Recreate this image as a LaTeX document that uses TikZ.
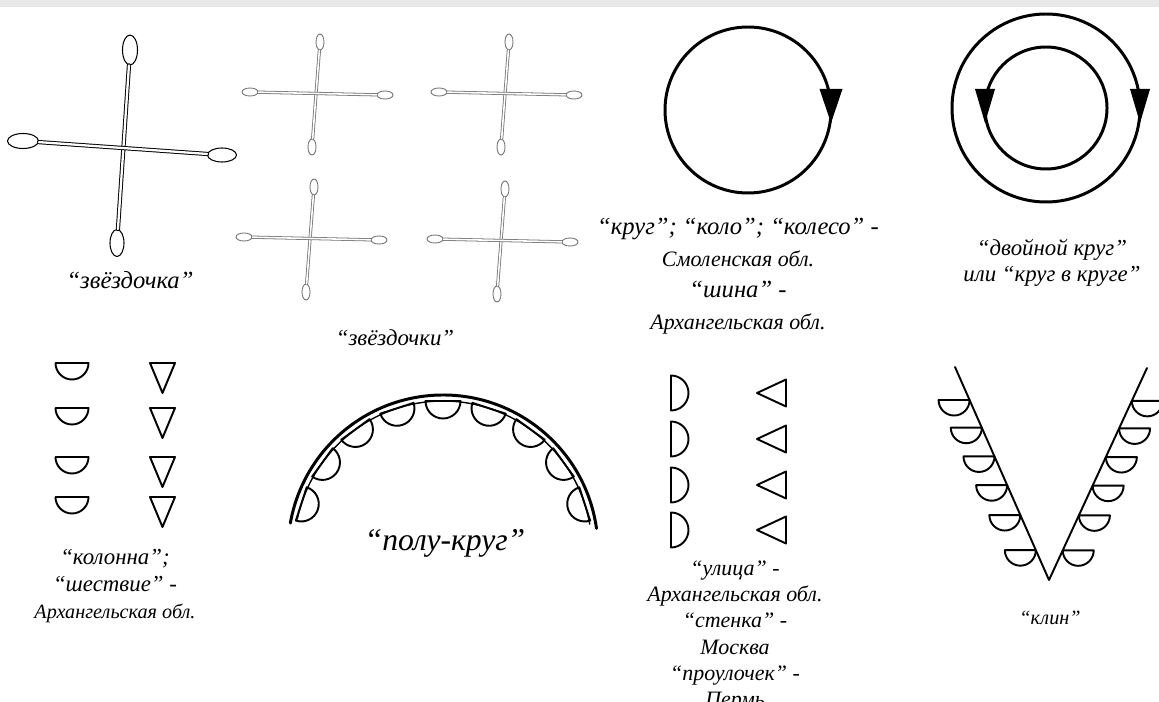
\documentclass[tikz,border=0pt]{standalone}
\usepackage{fontspec}
\setmainfont{Liberation Serif}
\usetikzlibrary{shapes.geometric,calc}

\newcommand{\obl}[1]{{\fontsize{12.5}{14}\selectfont #1}}

\begin{document}
\begin{tikzpicture}[
    line cap=round,
    line join=round,
    contour/.style={line width=1.1pt},
    heavy/.style={line width=1.7pt},
    stemline/.style={double, line width=0.55pt, double distance=1.3pt},
    faintline/.style={double, draw=black!55, line width=0.45pt, double distance=0.9pt},
    eyelet/.style={ellipse, draw, line width=0.6pt, inner sep=0pt},
    faintlet/.style={ellipse, draw=black!55, line width=0.5pt, inner sep=0pt},
    lbl/.style={align=center, font=\itshape\fontsize{14}{18}\selectfont}
]

\fill[white] (0,0) rectangle (23.18,14.02);
\useasboundingbox (0,0) rectangle (23.18,14.02);
\fill[black!9] (0,13.88) rectangle (23.18,14.02);

% -------------------------------------------------
% Звёздочка
% -------------------------------------------------

\node[eyelet, minimum width=0.30cm, minimum height=0.60cm] (bigN) at (2.60,13.02) {};
\node[eyelet, minimum width=0.28cm, minimum height=0.54cm] (bigS) at (2.34,9.16) {};
\node[eyelet, minimum width=0.62cm, minimum height=0.30cm] (bigW) at (0.46,11.20) {};
\node[eyelet, minimum width=0.58cm, minimum height=0.28cm] (bigE) at (4.44,10.92) {};

\draw[stemline] (bigN) -- (bigS);
\draw[stemline] (bigW) -- (bigE);

\node[lbl] (labStar) at (2.60,8.42) {“звёздочка”};

% -------------------------------------------------
% Четыре звёздочки
% -------------------------------------------------

\foreach \i/\cx/\cy in {1/6.36/12.16, 2/10.14/12.16, 3/6.24/9.26, 4/10.06/9.22} {
  \node[faintlet, minimum width=0.16cm, minimum height=0.32cm] (s\i N) at (\cx+0.04,\cy+1.02) {};
  \node[faintlet, minimum width=0.16cm, minimum height=0.32cm] (s\i S) at (\cx-0.12,\cy-1.08) {};
  \node[faintlet, minimum width=0.32cm, minimum height=0.16cm] (s\i W) at (\cx-1.36,\cy+0.02) {};
  \node[faintlet, minimum width=0.32cm, minimum height=0.16cm] (s\i E) at (\cx+1.34,\cy-0.04) {};
  \draw[faintline] (s\i N) -- (s\i S);
  \draw[faintline] (s\i W) -- (s\i E);
}

\node[lbl, font=\itshape\fontsize{13}{16}\selectfont] (labStars) at (7.90,7.26) {“звёздочки”};

% -------------------------------------------------
% Круг
% -------------------------------------------------

\coordinate (K) at (14.96,11.82);
\coordinate (Kr) at (16.62,11.82);
\draw[heavy] (K) circle[radius=1.66];
\fill (Kr) ++(-0.23,0.42) -- ++(0.46,0) -- ++(-0.23,-0.68) -- cycle;

\node[lbl] (labKrug) at (14.76,8.50)
  {“круг”; “коло”; “колесо” -\\ \obl{Смоленская обл.}\\ “шина” -\\ \obl{Архангельская обл.}};

% -------------------------------------------------
% Двойной круг
% -------------------------------------------------

\coordinate (DK) at (20.92,11.86);
\coordinate (DKo) at (22.80,11.86);
\coordinate (DKi) at (19.70,11.86);
\draw[heavy] (DK) circle[radius=1.88];
\draw[heavy] (DK) circle[radius=1.22];
\fill (DKo) ++(-0.20,0.38) -- ++(0.40,0) -- ++(-0.20,-0.68) -- cycle;
\fill (DKi) ++(-0.20,0.38) -- ++(0.40,0) -- ++(-0.20,-0.68) -- cycle;

\node[lbl, font=\itshape\fontsize{13}{14.5}\selectfont] (labDouble) at (21.04,8.76)
  {“двойной круг”\\ или “круг в круге”};

% -------------------------------------------------
% Колонна
% -------------------------------------------------

\foreach \y in {6.76,5.86,4.88,4.08} {
  \draw[contour] (1.11,\y) -- (1.77,\y) arc[start angle=0, end angle=-180, radius=0.33] -- cycle;
  \draw[contour] (3.00,\y) -- (3.50,\y) -- (3.25,\y-0.60) -- cycle;
}

\node[lbl, font=\itshape\fontsize{13}{15.5}\selectfont] (labKolonna) at (2.30,2.30)
  {“колонна”;\\ “шествие” -\\ {\fontsize{11.5}{14}\selectfont Архангельская обл.}};

% -------------------------------------------------
% Полукруг
% -------------------------------------------------

\coordinate (P) at (8.86,3.02);
\draw[heavy] ([shift={(8:3.10)}]P) arc[start angle=8, end angle=170, radius=3.10];
\draw[line width=0.8pt] ([shift={(10:2.98)}]P) arc[start angle=10, end angle=168, radius=2.98];
\foreach \a in {162,144,...,18}
  \draw[contour, shift={(P)}, rotate=\a] (2.98,-0.35) arc[start angle=-90, end angle=-270, radius=0.35] -- cycle;

\node[lbl, font=\itshape\fontsize{18}{20}\selectfont] (labPolu) at (8.90,3.16) {“полу-круг”};

% -------------------------------------------------
% Улица
% -------------------------------------------------

\foreach \y in {6.16,5.24,4.32,3.42} {
  \draw[contour] (13.42,\y-0.35) arc[start angle=-90, end angle=90, radius=0.35] -- cycle;
  \draw[contour] (15.72,\y+0.27) -- (15.72,\y-0.27) -- (15.14,\y) -- cycle;
}

\node[lbl, font=\itshape\fontsize{12.5}{15}\selectfont] (labUlica) at (14.70,1.30)
  {“улица” -\\ Архангельская обл.\\ “стенка” -\\ Москва\\ “проулочек” -\\ Пермь};

% -------------------------------------------------
% Клин
% -------------------------------------------------

\coordinate (WL) at (19.10,6.68);
\coordinate (WV) at (20.98,2.42);
\coordinate (WR) at (22.94,6.66);
\draw[contour] (WL) -- (WV) -- (WR);
\foreach \t in {0.155,0.285,0.42,0.555,0.695,0.86} {
  \draw[contour] ($(WL)!\t!(WV)$) -- ++(-0.62,0) arc[start angle=180, end angle=360, radius=0.31] -- cycle;
  \draw[contour] ($(WR)!\t!(WV)$) -- ++(0.62,0) arc[start angle=0, end angle=-180, radius=0.31] -- cycle;
}

\node[lbl, font=\itshape\fontsize{11.5}{13}\selectfont] (labKlin) at (21.00,1.66) {“клин”};

\end{tikzpicture}
\end{document}
